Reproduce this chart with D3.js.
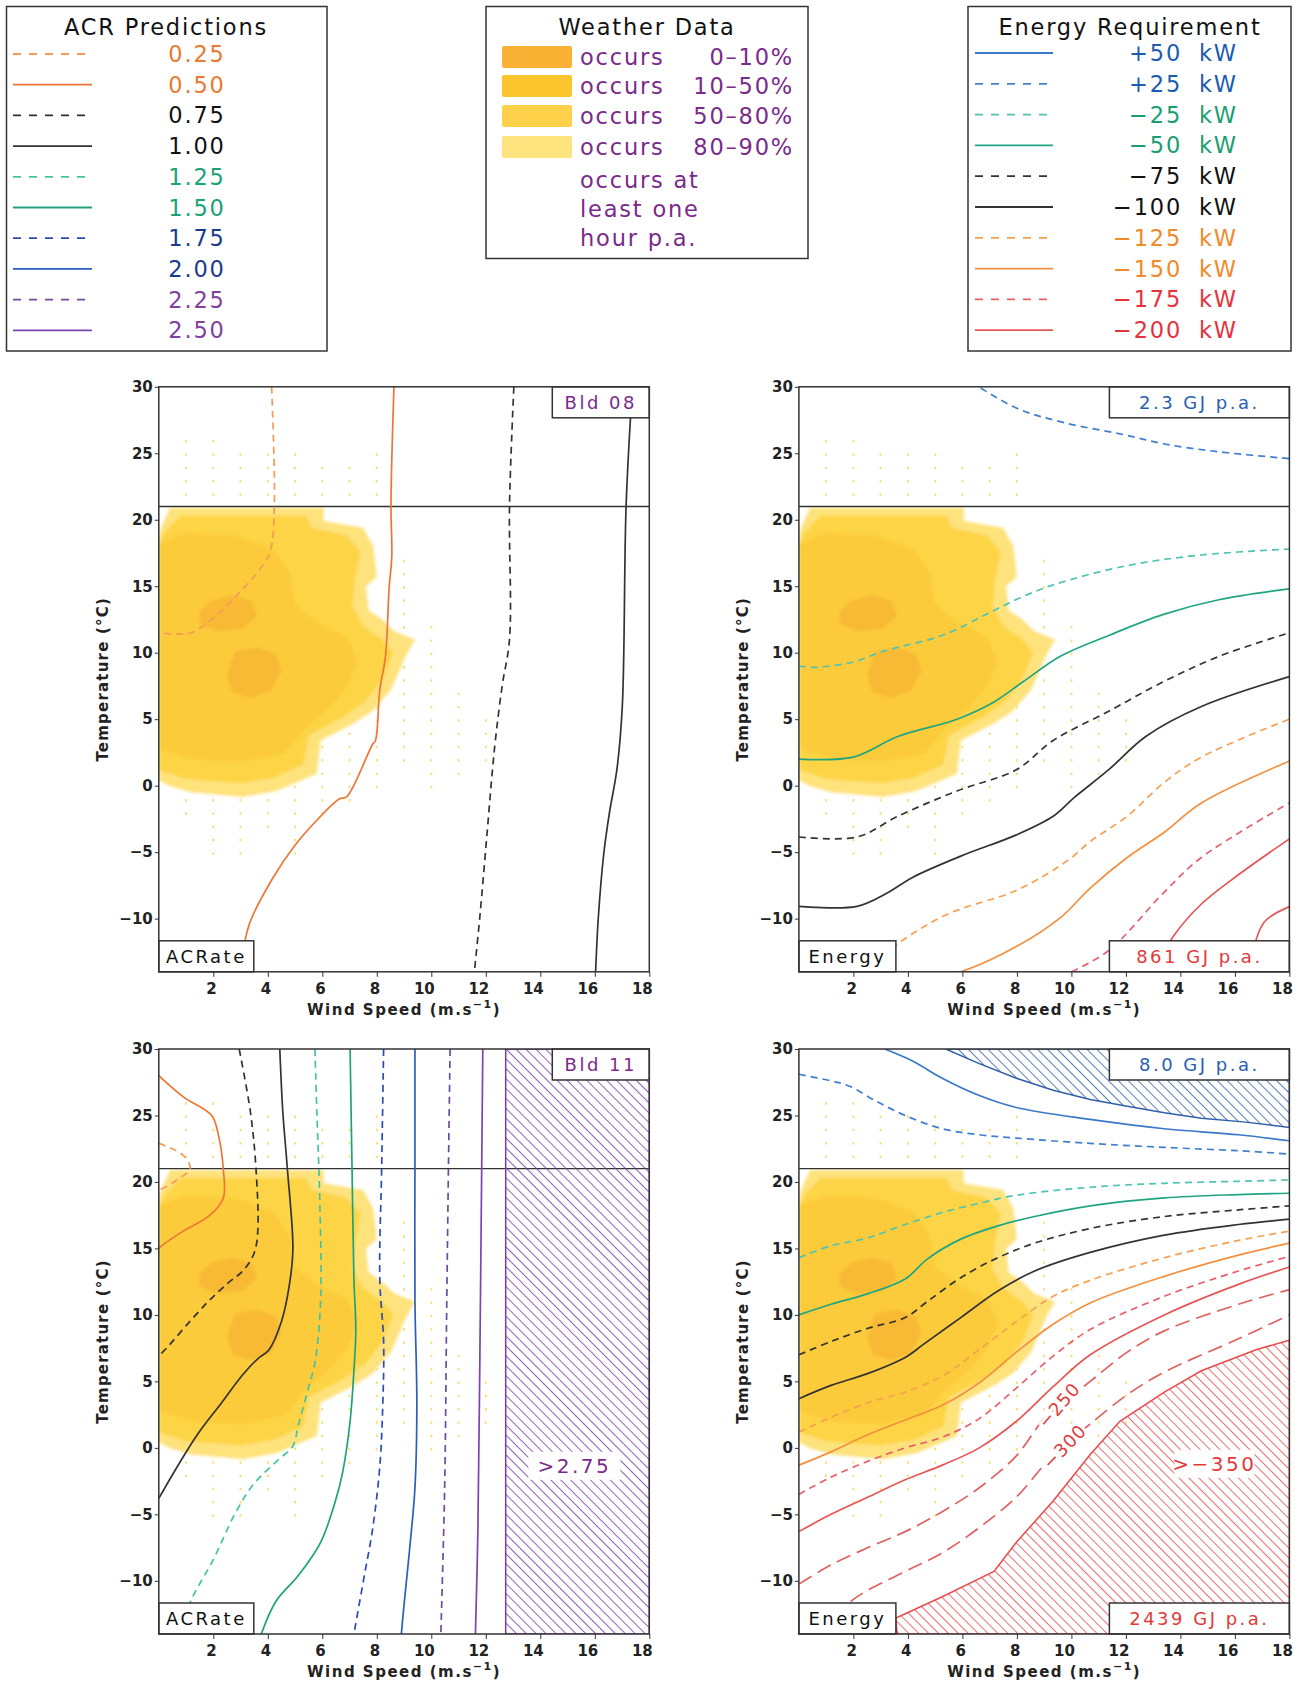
<!DOCTYPE html>
<html><head><meta charset="utf-8">
<script src="https://cdn.jsdelivr.net/npm/d3@7"></script>
<style>
body{margin:0;background:#fff;}
text{font-family:"DejaVu Sans",sans-serif;}
</style></head>
<body><svg id="c" width="1301" height="1687"></svg>
<script>
// ---------------- DATA ----------------
const windTicks = [2,4,6,8,10,12,14,16,18];
const tempTicks = [-10,-5,0,5,10,15,20,25,30];
const comfortTemp = 21;

const acrLevels = ["0.25","0.50","0.75","1.00","1.25","1.50","1.75","2.00","2.25","2.50"];
const energyLevels = ["+50","+25","−25","−50","−75","−100","−125","−150","−175","−200"];
const weatherBandsLegend = ["0–10%","10–50%","50–80%","80–90%"];
const weatherNote = ["occurs at","least one","hour p.a."];

// weather occurrence bands (wind m/s, temperature °C), outer to inner
const weatherBands = [
 {band:"80–90%", pts:[[0,0.4],[0.37,0.0],[1.18,-0.5],[3.08,-0.85],[4.31,-0.4],[5.8,0.9],[5.94,3.4],[7.16,4.7],[7.84,5.6],[8.52,7.2],[9.06,9.75],[9.4,11.0],[8.65,11.6],[8.2,12.5],[7.7,13.2],[7.6,15.0],[8.0,15.7],[7.87,18.0],[7.5,19.4],[6.05,19.9],[6.05,20.9],[0.41,20.9],[0.1,19.5],[0,18.8]]},
 {band:"50–80%", pts:[[0,1.2],[1.0,0.5],[3.0,0.2],[4.2,0.6],[5.3,1.6],[5.5,3.8],[6.8,5.2],[7.6,6.4],[8.2,8.0],[8.6,10.0],[8.2,11.0],[7.5,12.0],[7.1,13.5],[7.2,15.5],[7.4,17.6],[6.9,18.8],[5.6,19.4],[5.4,20.3],[0.8,20.3],[0.2,19.0],[0,18.0]]},
 {band:"10–50%", pts:[[0,2.8],[1.2,2.0],[3.0,1.8],[4.6,2.4],[5.3,4.2],[6.2,5.8],[6.9,7.4],[7.3,9.4],[6.9,11.2],[5.8,12.3],[5.0,13.6],[4.8,16.0],[4.2,17.8],[2.8,18.8],[1.0,19.0],[0,18.2]]},
 {band:"0–10%", pts:[[1.5,12.2],[2.1,11.6],[3.1,11.8],[3.6,12.8],[3.4,13.9],[2.7,14.3],[1.9,13.9],[1.5,13.1]]},
 {band:"0–10%", pts:[[2.5,8.4],[2.7,7.0],[3.4,6.6],[4.1,7.1],[4.5,8.6],[4.3,9.9],[3.6,10.4],[2.8,10.1]]}
];

// conditions occurring at least one hour p.a. (wind, temperature range)
const hourDots = [
 {w:1,t0:21,t1:26},{w:1,t0:-3,t1:0},
 {w:2,t0:21,t1:26},{w:2,t0:-6,t1:0},
 {w:3,t0:21,t1:25},{w:3,t0:-6,t1:0},
 {w:4,t0:21,t1:25},{w:4,t0:-4,t1:0},
 {w:5,t0:21,t1:25},{w:5,t0:-6,t1:0},
 {w:6,t0:21,t1:24},{w:6,t0:-3,t1:3},
 {w:7,t0:21,t1:24},{w:7,t0:-2,t1:4},
 {w:8,t0:21,t1:25},{w:8,t0:-1,t1:12},
 {w:9,t0:1,t1:17},{w:10,t0:-1,t1:12},{w:11,t0:0,t1:7},{w:12,t0:1,t1:5}
];

// Bld 08 – ACR predictions
const bld08Acr = [
 {level:"0.25", pts:[[4.14,30],[4.24,21.1],[4.10,17.7],[3.76,16.4],[2.81,14.2],[2.0,12.6],[1.18,11.5],[0.64,11.4],[0,11.5]]},
 {level:"0.50", pts:[[8.63,30],[8.52,21.1],[8.55,17.3],[8.45,14.8],[8.32,9.75],[8.11,7.2],[7.95,3.4],[7.84,3.1],[6.89,-0.85],[6.62,-1.0],[5.8,-2.6],[4.99,-4.5],[4.17,-7.0],[3.36,-10.2],[3.08,-12.4],[2.88,-14]]},
 {level:"0.75", pts:[[13.03,30],[12.87,21.1],[12.87,11],[12.6,7.5],[12.32,2.8],[12.05,-3.5],[11.78,-9.9],[11.58,-14]]},
 {level:"1.00", pts:[[17.38,30],[17.15,21.1],[17.01,6],[16.81,1.2],[16.54,-2],[16.33,-5.1],[16.13,-9.9],[16.03,-14]]}
];

// Bld 08 – Energy requirement (kW)
const bld08Energy = [
 {level:"+25", pts:[[6.3,30.4],[7.98,28.4],[9.74,27.3],[11.92,26.4],[13.41,25.7],[15.45,25.1],[18,24.6]]},
 {level:"−25", pts:[[0,9.0],[0.5,8.9],[2.0,9.3],[3.08,10.1],[5.26,11.3],[6.89,12.9],[7.98,14.0],[9.33,15.1],[12.05,16.55],[14.77,17.35],[18,17.8]]},
 {level:"−50", pts:[[0,2.0],[2.0,2.15],[3.63,3.7],[5.8,5.0],[7.16,6.3],[8.25,7.85],[9.61,9.75],[11.37,11.3],[13.41,12.9],[15.45,14.0],[18,14.8]]},
 {level:"−75", pts:[[0,-3.86],[2.13,-3.86],[3.63,-2.3],[5.8,-0.4],[7.98,1.2],[9.33,3.4],[11.37,5.6],[13.41,7.85],[15.45,9.75],[18,11.5]]},
 {level:"−100", pts:[[0,-9.08],[2.13,-9.08],[3.22,-8.1],[4.17,-6.9],[5.94,-5.3],[7.98,-3.7],[9.33,-2.3],[10.1,-0.9],[11.37,1.2],[12.73,3.7],[14.77,5.95],[18,8.2]]},
 {level:"−125", pts:[[1.5,-14.5],[2.95,-13],[3.9,-11.5],[5.53,-9.6],[7.84,-8.0],[9.06,-6.7],[10.01,-5.4],[10.69,-4.2],[12.05,-2.3],[13.41,0.25],[14.77,2.15],[18,5.0]]},
 {level:"−150", pts:[[5.0,-14.4],[5.94,-14],[7.98,-12.1],[9.61,-9.9],[10.69,-7.7],[12.05,-5.4],[13.41,-3.5],[14.77,-1.3],[18,1.85]]},
 {level:"−175", pts:[[10.01,-14],[11.37,-12.4],[13.41,-8.0],[14.77,-5.4],[18,-1.3]]},
 {level:"−200", pts:[[13.0,-14],[13.75,-11.3],[14.77,-8.9],[16.13,-6.7],[18,-4.0]]},
 {level:"−225", pts:[[16.67,-12.4],[17.08,-10.25],[18,-9.1]]}
];

// Bld 11 – ACR predictions
const bld11Acr = [
 {level:"0.25", pts:[[0,22.9],[0.9,22.0],[1.15,21.0],[0.78,20.3],[0.17,19.55],[0,19.4]]},
 {level:"0.50", pts:[[0,28.0],[0.9,26.4],[1.94,25.0],[2.19,23.5],[2.37,20.9],[2.37,18.8],[1.88,17.5],[0.9,16.3],[0.17,15.3],[0,15.0]]},
 {level:"0.75", pts:[[2.95,30],[3.36,25.3],[3.56,21.2],[3.63,16.2],[3.49,14.6],[3.08,13.3],[2.54,12.4],[1.86,11.1],[1.18,9.6],[0.37,7.7],[0,6.9]]},
 {level:"1.00", pts:[[4.44,30],[4.55,25.3],[4.71,21.2],[4.92,14.9],[4.78,12.1],[4.51,9.56],[4.04,7.36],[3.63,6.7],[3.08,5.5],[2.27,3.3],[1.45,1.1],[0.77,-1.1],[0,-3.8]]},
 {level:"1.25", pts:[[5.73,30],[5.8,25.3],[5.91,18.4],[5.94,11.1],[5.73,6.4],[5.53,4.8],[5.12,1.7],[4.92,0.13],[4.44,-0.8],[3.49,-2.7],[2.81,-4.9],[2.0,-8.4],[1.18,-11.5],[0.77,-14]]},
 {level:"1.50", pts:[[7.02,30],[7.09,21.2],[7.16,12.7],[7.23,8.9],[7.16,5.8],[7.02,2.0],[6.75,-1.8],[6.48,-4.0],[5.94,-7.1],[5.12,-9.6],[4.31,-11.5],[3.76,-14]]},
 {level:"1.75", pts:[[8.25,30],[8.18,21.2],[8.11,12.7],[8.25,8.0],[8.22,3.3],[8.11,-1.4],[7.84,-6.2],[7.57,-9.3],[7.16,-14]]},
 {level:"2.00", pts:[[9.4,30],[9.4,21.2],[9.4,11.1],[9.47,3.3],[9.4,-3.0],[9.2,-7.7],[9.0,-11.8],[8.9,-14]]},
 {level:"2.25", pts:[[10.69,30],[10.63,21.2],[10.56,9.6],[10.49,-3.0],[10.35,-14]]},
 {level:"2.50", pts:[[11.89,30],[11.85,21.2],[11.78,6.4],[11.71,-6.2],[11.62,-14]]}
];
const bld11AcrHatch = [{level:">2.75", pts:[[12.73,30],[18,30],[18,-14],[12.73,-14]]}];

// Bld 11 – Energy requirement (kW)
const bld11Energy = [
 {level:"+50", pts:[[3.15,30],[4.17,29.1],[5.26,27.8],[6.62,26.5],[7.98,25.6],[10.69,24.7],[13.41,24.0],[16.13,23.55],[18,23.1]]},
 {level:"+25", pts:[[0,28.1],[1.18,27.6],[1.86,27.2],[2.81,26.1],[3.9,25.0],[5.26,24.0],[6.62,23.55],[7.98,23.3],[10.69,22.9],[13.41,22.6],[16.13,22.35],[18,22.1]]},
 {level:"−25", pts:[[0,14.3],[1.18,15.2],[2.54,15.8],[3.9,16.8],[5.26,17.7],[6.62,18.4],[7.98,19.0],[10.69,19.6],[13.41,19.9],[16.13,20.05],[18,20.15]]},
 {level:"−50", pts:[[0,10.0],[1.18,10.8],[2.54,11.6],[3.9,12.7],[4.71,14.2],[5.94,15.7],[7.3,16.7],[8.65,17.4],[10.69,18.2],[13.41,18.8],[16.13,19.05],[18,19.15]]},
 {level:"−75", pts:[[0,7.0],[1.18,8.0],[2.54,9.0],[3.9,9.8],[4.71,11.0],[5.94,12.8],[7.3,14.3],[8.65,15.4],[10.69,16.5],[13.41,17.4],[16.13,17.9],[18,18.2]]},
 {level:"−100", pts:[[0,3.7],[1.18,4.7],[2.54,5.6],[3.9,6.8],[4.58,7.8],[5.94,9.8],[7.3,11.8],[8.65,13.3],[10.69,14.7],[13.41,16.0],[16.13,16.8],[18,17.2]]},
 {level:"−125", pts:[[0,1.2],[1.18,2.3],[2.54,3.4],[3.9,4.2],[5.26,5.4],[6.62,7.4],[7.98,9.5],[9.33,11.4],[10.69,12.6],[13.41,14.3],[16.13,15.6],[18,16.3]]},
 {level:"−150", pts:[[0,-1.3],[1.18,-0.3],[2.54,1.0],[3.9,2.1],[5.26,3.2],[6.62,4.9],[7.98,7.2],[9.33,9.3],[10.69,10.9],[13.41,12.9],[16.13,14.5],[18,15.4]]},
 {level:"−175", pts:[[0,-3.5],[1.18,-2.2],[2.54,-1.0],[3.9,0.0],[5.26,0.8],[6.62,2.2],[7.98,4.5],[9.33,6.9],[10.69,8.9],[13.41,11.4],[16.13,13.3],[18,14.4]]},
 {level:"−200", pts:[[0,-6.3],[1.18,-5.0],[2.54,-3.7],[3.9,-2.4],[5.26,-1.3],[6.62,0.0],[7.98,2.0],[9.33,4.6],[10.69,7.0],[13.41,10.0],[16.13,12.3],[18,13.6]]},
 {level:"−250", pts:[[0,-10.25],[1.18,-8.8],[2.54,-7.5],[3.9,-6.3],[5.26,-4.8],[6.62,-3.0],[7.98,-0.6],[9.0,2.2],[9.7,3.4],[10.69,5.0],[12.05,7.2],[13.41,8.8],[16.13,10.8],[18,11.9]]},
 {level:"−300", pts:[[0.8,-14],[2.0,-11.4],[3.9,-9.3],[5.26,-7.9],[6.62,-6.0],[7.98,-3.7],[9.0,-1.3],[9.8,0.3],[10.69,1.8],[12.05,4.0],[13.41,5.7],[16.13,8.2],[18,10.0]]}
];
const bld11EnergyHatch = [
 {level:"+75", pts:[[5.39,30],[6.62,28.9],[7.98,27.8],[9.33,26.9],[10.69,26.2],[12.05,25.7],[13.41,25.2],[14.77,24.8],[16.4,24.5],[18,24.1],[18,30]]},
 {level:"−350", pts:[[3.6,-14],[3.56,-12.8],[5.26,-11.2],[7.16,-9.3],[7.98,-7.1],[9.33,-4.0],[10.69,-0.5],[11.78,2.0],[13.41,4.2],[14.77,5.8],[16.8,7.4],[18,8.1],[18,-14]]}
];

// ---------------- STYLES ----------------
const DASH = "7,5", LDASH = "15,7";
const acrStyle = {
 "0.25":{c:"#f59a58",d:DASH}, "0.50":{c:"#ee7634"},
 "0.75":{c:"#333",d:DASH}, "1.00":{c:"#333"},
 "1.25":{c:"#45c2a6",d:DASH}, "1.50":{c:"#1fa27c"},
 "1.75":{c:"#2a4cb5",d:DASH}, "2.00":{c:"#2a5fc0"},
 "2.25":{c:"#6c4b9e",d:DASH}, "2.50":{c:"#7a45b0"}
};
const acrText = {"0.25":"#ea7a30","0.50":"#ea7a30","0.75":"#111","1.00":"#111","1.25":"#1aa377","1.50":"#1aa377","1.75":"#1b3b8f","2.00":"#1b3b8f","2.25":"#83409f","2.50":"#83409f"};
const enStyle = {
 "+50":{c:"#3a78c8"}, "+25":{c:"#3f7fcf",d:DASH},
 "−25":{c:"#4fc4b2",d:DASH}, "−50":{c:"#1fa582"},
 "−75":{c:"#333",d:DASH}, "−100":{c:"#333"},
 "−125":{c:"#f5a050",d:DASH}, "−150":{c:"#f39040"},
 "−175":{c:"#e8606e",d:DASH}, "−200":{c:"#e65656"},
 "−225":{c:"#e65656"}, "−250":{c:"#e06060",d:LDASH}, "−300":{c:"#e06060",d:LDASH},
 "+75":{c:"#3a70c0"}, "−350":{c:"#e84a4a"}, ">2.75":{c:"#7a3aa8"}
};
const enText = {"+50":"#1a5cb0","+25":"#1a5cb0","−25":"#1a9e70","−50":"#1a9e70","−75":"#111","−100":"#111","−125":"#f08a2a","−150":"#f08a2a","−175":"#e6323c","−200":"#e6323c"};
const bandColor = {"0–10%":"#f8b934","10–50%":"#fccb3a","50–80%":"#fdd444","80–90%":"#fee27c"};
const legendSwatch = {"0–10%":"#f9b233","10–50%":"#fbc52e","50–80%":"#fdd24a","80–90%":"#fee37f"};
const hatchColor = {">2.75":"#7a3aa8","+75":"#2f5ea8","−350":"#e84a4a"};

// ---------------- LAYOUT ----------------
const svg = d3.select("#c");
const defs = svg.append("defs");
const PW = 490.5, PH = 585;
const x = d3.scaleLinear().domain([0,18]).range([0,PW]);
const y = d3.scaleLinear().domain([-14,30]).range([PH,0]);
const line = d3.line().x(d=>x(d[0])).y(d=>y(d[1])).curve(d3.curveCatmullRom.alpha(0.5));
const poly = d3.line().x(d=>x(d[0])).y(d=>y(d[1])).curve(d3.curveLinearClosed);
const FONT = '"DejaVu Sans",sans-serif';

defs.append("filter").attr("id","soft").attr("x","-5%").attr("y","-5%").attr("width","110%").attr("height","110%")
  .append("feGaussianBlur").attr("stdDeviation",1.6);

Object.entries(hatchColor).forEach(([k,c],i)=>{
  const p = defs.append("pattern").attr("id","hatch"+i).attr("patternUnits","userSpaceOnUse")
    .attr("width",7).attr("height",7).attr("patternTransform","rotate(-45)");
  p.append("line").attr("x1",0).attr("y1",0).attr("x2",0).attr("y2",7).attr("stroke",c).attr("stroke-width",1.6);
  hatchColor[k] = {c, id:"hatch"+i};
});

const panels = [
 {x:158.8, y:386.8, lines:bld08Acr, style:acrStyle, hatch:[], labels:[
   {t:"Bld 08", c:"#7a2a8a", pos:"tr", w:97}, {t:"ACRate", c:"#111", pos:"bl", w:95}]},
 {x:798.9, y:386.8, lines:bld08Energy, style:enStyle, hatch:[], labels:[
   {t:"2.3 GJ p.a.", c:"#2a5fb0", pos:"tr", w:180}, {t:"Energy", c:"#111", pos:"bl", w:97},
   {t:"861 GJ p.a.", c:"#e23a3a", pos:"br", w:180}]},
 {x:158.8, y:1049, lines:bld11Acr, style:acrStyle, hatch:bld11AcrHatch, labels:[
   {t:"Bld 11", c:"#7a2a8a", pos:"tr", w:97}, {t:"ACRate", c:"#111", pos:"bl", w:95},
   {t:">2.75", c:"#7a2a8a", pos:"free", w:92, at:[15.25,-1.35]}]},
 {x:798.9, y:1049, lines:bld11Energy, style:enStyle, hatch:bld11EnergyHatch, labels:[
   {t:"8.0 GJ p.a.", c:"#2a5fb0", pos:"tr", w:180}, {t:"Energy", c:"#111", pos:"bl", w:97},
   {t:"2439 GJ p.a.", c:"#e23a3a", pos:"br", w:180},
   {t:">−350", c:"#e23a3a", pos:"free", w:80, at:[15.25,-1.2]}],
   inline:[{t:"−250", at:[9.55,3.2], a:-49},{t:"−300", at:[9.75,0.1], a:-46}]}
];

panels.forEach((p,i)=>{
  const g = svg.append("g").attr("transform",`translate(${p.x},${p.y})`);
  defs.append("clipPath").attr("id","clip"+i).append("rect").attr("width",PW).attr("height",PH);
  const pg = g.append("g").attr("clip-path",`url(#clip${i})`);
  // at least one hour p.a.
  pg.selectAll(".dot").data(hourDots).join("line")
    .attr("x1",d=>x(d.w)).attr("x2",d=>x(d.w)).attr("y1",d=>y(d.t1)).attr("y2",d=>y(d.t0))
    .attr("stroke","#f8da6a").attr("stroke-width",2).attr("stroke-dasharray","2.5,10.8").attr("opacity",0.85);
  // weather bands
  pg.append("g").attr("filter","url(#soft)").selectAll(".band").data(weatherBands).join("path")
    .attr("d",d=>poly(d.pts)).attr("fill",d=>bandColor[d.band]);
  // comfort line
  pg.append("line").attr("x1",0).attr("x2",PW).attr("y1",y(comfortTemp)).attr("y2",y(comfortTemp))
    .attr("stroke","#333").attr("stroke-width",1.4);
  // hatched regions
  pg.selectAll(".hatch").data(p.hatch).join("path")
    .attr("d",d=>poly(d.pts)).attr("fill",d=>`url(#${hatchColor[d.level].id})`)
    .attr("stroke",d=>hatchColor[d.level].c).attr("stroke-width",1.5);
  // contour lines
  pg.selectAll(".ct").data(p.lines).join("path")
    .attr("d",d=>line(d.pts)).attr("fill","none")
    .attr("stroke",d=>p.style[d.level].c).attr("stroke-width",1.7)
    .attr("stroke-dasharray",d=>p.style[d.level].d||null);
  // inline contour labels
  (p.inline||[]).forEach(l=>{
    pg.append("text").attr("transform",`translate(${x(l.at[0])},${y(l.at[1])}) rotate(${l.a})`)
      .attr("text-anchor","middle").attr("dy","0.35em").attr("font-size",18).attr("letter-spacing",1)
      .attr("fill","#e23a3a").attr("stroke","#fff").attr("stroke-width",6).attr("paint-order","stroke")
      .text(l.t);
  });
  // label boxes
  p.labels.forEach(l=>{
    const h = 31;
    let bx, by;
    if (l.pos==="tr"){bx=PW-l.w; by=0;}
    else if (l.pos==="bl"){bx=0; by=PH-h;}
    else if (l.pos==="br"){bx=PW-l.w; by=PH-h;}
    else {bx=x(l.at[0])-l.w/2; by=y(l.at[1])-14;}
    const free = l.pos==="free";
    g.append("rect").attr("x",bx).attr("y",by).attr("width",l.w).attr("height",free?28:h)
      .attr("fill","#fff").attr("stroke",free?"none":"#333").attr("stroke-width",1.5);
    g.append("text").attr("x",bx+l.w/2).attr("y",by+(free?14:h/2)).attr("dy","0.36em")
      .attr("text-anchor","middle").attr("font-size",free?20:18).attr("letter-spacing",2.5)
      .attr("fill",l.c).text(l.t);
  });
  // frame
  g.append("rect").attr("width",PW).attr("height",PH).attr("fill","none").attr("stroke","#333").attr("stroke-width",1.5);
  // axes
  const xa = g.append("g").attr("transform",`translate(0,${PH})`)
    .call(d3.axisBottom(x).tickValues(windTicks).tickSize(5).tickSizeOuter(0));
  xa.select(".domain").remove();
  xa.attr("font-family",FONT).attr("font-size",15).attr("font-weight","bold");
  xa.selectAll("line").attr("stroke","#333");
  xa.selectAll("text").attr("text-anchor","end").attr("x",3).attr("dy","0.95em").attr("fill","#222");
  const ya = g.append("g").call(d3.axisLeft(y).tickValues(tempTicks).tickSize(4).tickPadding(2).tickSizeOuter(0));
  ya.select(".domain").remove();
  ya.attr("font-family",FONT).attr("font-size",15).attr("font-weight","bold");
  ya.selectAll("line").attr("stroke","#333");
  ya.selectAll("text").attr("fill","#222");
  // axis titles
  const xt = g.append("text").attr("x",PW/2).attr("y",PH+43).attr("text-anchor","middle")
    .attr("font-size",15).attr("font-weight","bold").attr("letter-spacing",1.5).attr("fill","#222");
  xt.append("tspan").text("Wind Speed (m.s");
  xt.append("tspan").attr("dy",-7).attr("font-size",11).text("−1");
  xt.append("tspan").attr("dy",7).text(")");
  g.append("text").attr("transform",`translate(-51,${PH/2}) rotate(-90)`).attr("text-anchor","middle")
    .attr("font-size",15).attr("font-weight","bold").attr("letter-spacing",1.2).attr("fill","#222")
    .text("Temperature (°C)");
});

// ---------------- LEGENDS ----------------
const LF = 22.5, LS = 1.8;
function box(x0,y0,w,h){ svg.append("rect").attr("x",x0).attr("y",y0).attr("width",w).attr("height",h)
  .attr("fill","#fff").attr("stroke","#333").attr("stroke-width",1.5); }
function ttl(t,cx){ svg.append("text").attr("x",cx).attr("y",35).attr("text-anchor","middle")
  .attr("font-size",LF).attr("letter-spacing",LS).attr("fill","#111").text(t); }

// ACR predictions
box(6.5,6.5,320.5,344.5); ttl("ACR Predictions",166);
acrLevels.forEach((lv,i)=>{
  const yy = 54 + i*30.7;
  svg.append("line").attr("x1",13).attr("x2",92).attr("y1",yy).attr("y2",yy)
    .attr("stroke",acrStyle[lv].c).attr("stroke-width",1.8).attr("stroke-dasharray",acrStyle[lv].d?"8,8":null);
  svg.append("text").attr("x",197).attr("y",yy+8).attr("text-anchor","middle").attr("font-size",LF)
    .attr("letter-spacing",LS).attr("fill",acrText[lv]).text(lv);
});

// Weather data
box(486,6.5,322,252); ttl("Weather Data",647);
weatherBandsLegend.forEach((b,i)=>{
  const yy = [57,86,116,147][i];
  svg.append("rect").attr("x",502).attr("y",yy-11).attr("width",70).attr("height",22).attr("rx",2)
    .attr("fill",legendSwatch[b]);
  svg.append("text").attr("x",580).attr("y",yy+8).attr("font-size",LF).attr("letter-spacing",LS)
    .attr("fill","#7a2a8a").text("occurs");
  svg.append("text").attr("x",794).attr("y",yy+8).attr("text-anchor","end").attr("font-size",LF)
    .attr("letter-spacing",LS).attr("fill","#7a2a8a").text(b);
});
weatherNote.forEach((t,i)=>{
  svg.append("text").attr("x",580).attr("y",[180,209,238][i]+8).attr("font-size",LF)
    .attr("letter-spacing",LS).attr("fill","#7a2a8a").text(t);
});

// Energy requirement
box(968,6.5,323,344.5); ttl("Energy Requirement",1130);
energyLevels.forEach((lv,i)=>{
  const yy = 53 + i*30.8;
  svg.append("line").attr("x1",975).attr("x2",1053).attr("y1",yy).attr("y2",yy)
    .attr("stroke",enStyle[lv].c).attr("stroke-width",1.8).attr("stroke-dasharray",enStyle[lv].d?"8,8":null);
  svg.append("text").attr("x",1182).attr("y",yy+8).attr("text-anchor","end").attr("font-size",LF)
    .attr("letter-spacing",LS).attr("fill",enText[lv]).text(lv);
  svg.append("text").attr("x",1199).attr("y",yy+8).attr("font-size",LF)
    .attr("letter-spacing",LS).attr("fill",enText[lv]).text("kW");
});
</script>
</body></html>
